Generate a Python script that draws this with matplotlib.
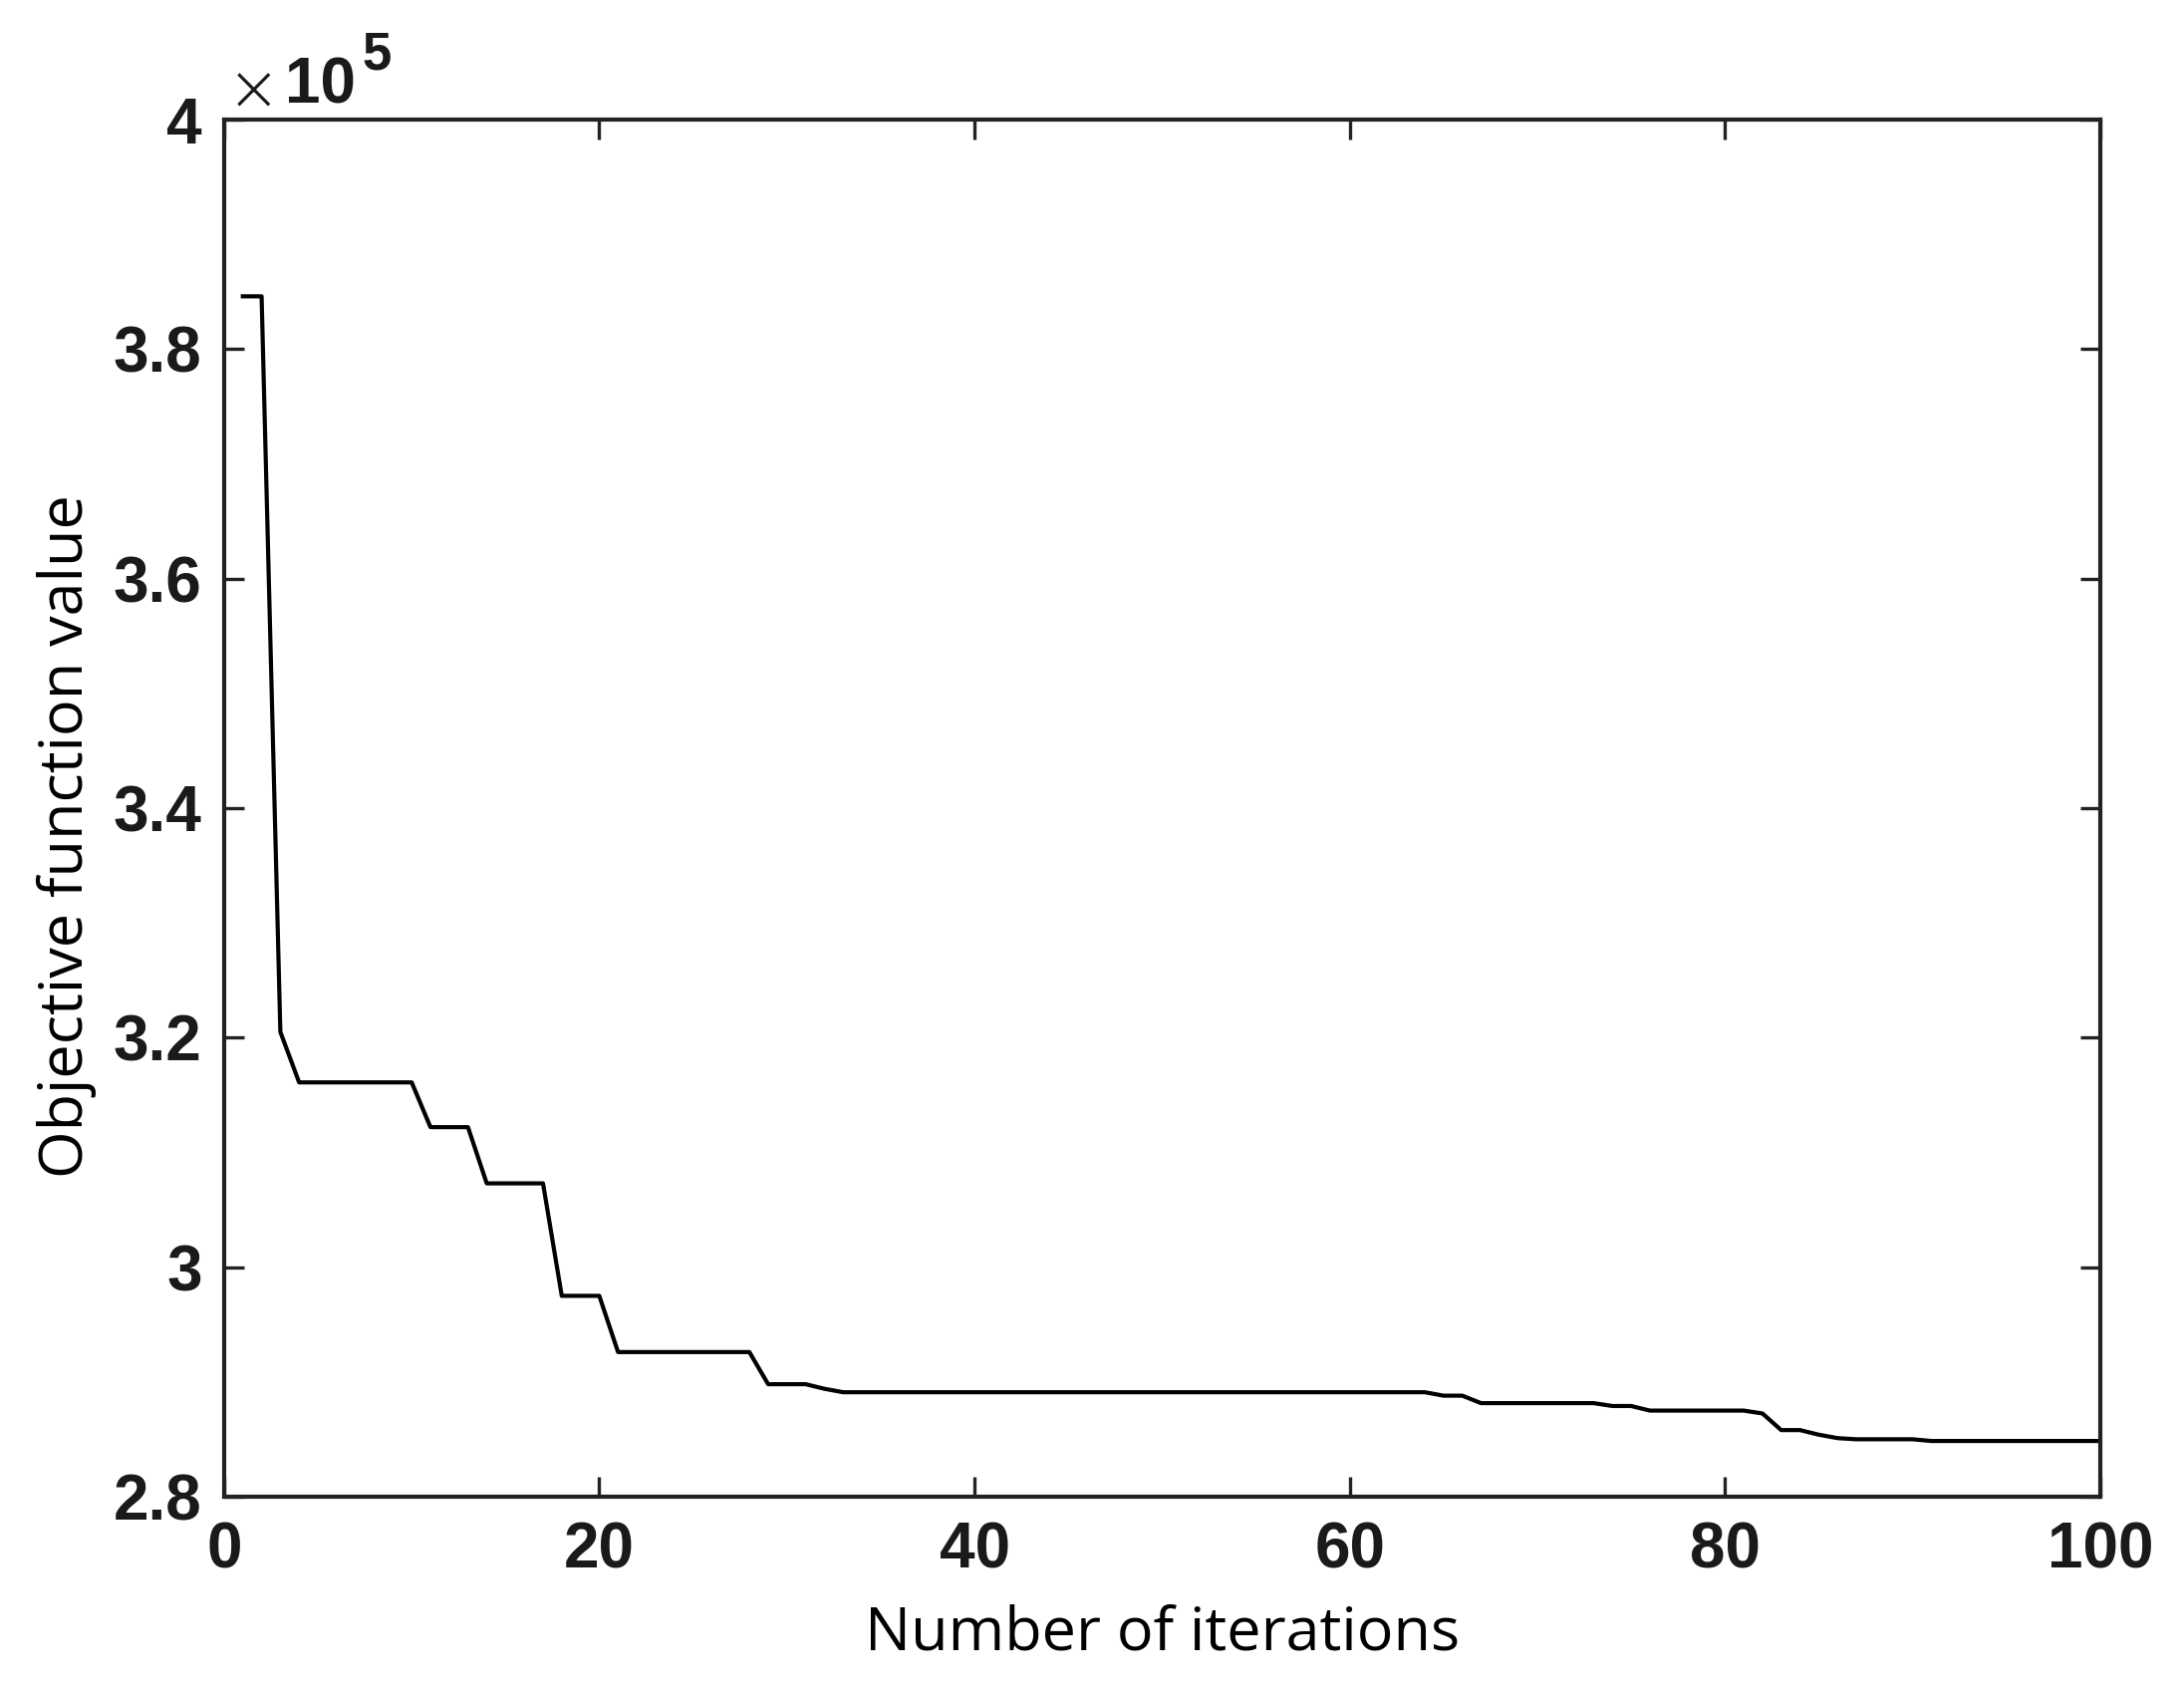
import matplotlib
matplotlib.use("Agg")
import matplotlib.pyplot as plt
from matplotlib.ticker import FuncFormatter

# best objective value per iteration
iterations = list(range(1, 101))
objective = [
    384600, 384600, 320500, 316100, 316100, 316100, 316100, 316100, 316100, 316100,
    312200, 312200, 312200, 307300, 307300, 307300, 307300, 297500, 297500, 297500,
    292600, 292600, 292600, 292600, 292600, 292600, 292600, 292600, 289800, 289800,
    289800, 289400, 289100, 289100, 289100, 289100, 289100, 289100, 289100, 289100,
    289100, 289100, 289100, 289100, 289100, 289100, 289100, 289100, 289100, 289100,
    289100, 289100, 289100, 289100, 289100, 289100, 289100, 289100, 289100, 289100,
    289100, 289100, 289100, 289100, 288800, 288800, 288150, 288150, 288150, 288150,
    288150, 288150, 288150, 287900, 287900, 287500, 287500, 287500, 287500, 287500,
    287500, 287250, 285800, 285800, 285400, 285100, 285000, 285000, 285000, 285000,
    284850, 284850, 284850, 284850, 284850, 284850, 284850, 284850, 284850, 284850,
]
x_ticks = [0, 20, 40, 60, 80, 100]
y_ticks = [280000, 300000, 320000, 340000, 360000, 380000, 400000]

TICK_FONT = dict(family="Liberation Sans", weight="bold", size=23)
LABEL_FONT = dict(family="Open Sans", size=22)

fig = plt.figure(figsize=(10.96, 8.5), dpi=200)
ax = fig.add_axes([0.1026, 0.1165, 0.8590, 0.8129])

ax.plot(iterations, objective, color="black", linewidth=1.5)

ax.set_xlim(0, 100)
ax.set_ylim(280000, 400000)
ax.set_xticks(x_ticks)
ax.set_yticks(y_ticks)
ax.yaxis.set_major_formatter(FuncFormatter(lambda v, _: f"{v / 1e5:g}"))

ax.tick_params(direction="in", length=7.2, width=1.2, top=True, right=True,
               color="#222222")
ax.tick_params(axis="x", pad=9)
ax.tick_params(axis="y", pad=8)
for lab in ax.get_xticklabels() + ax.get_yticklabels():
    lab.set_fontfamily(TICK_FONT["family"])
    lab.set_fontweight(TICK_FONT["weight"])
    lab.set_fontsize(TICK_FONT["size"])
    lab.set_color("#1a1a1a")
for spine in ax.spines.values():
    spine.set_linewidth(1.5)
    spine.set_color("#222222")

ax.set_xlabel("Number of iterations", **LABEL_FONT)
ax.set_ylabel("Objective function value", **LABEL_FONT)
ax.xaxis.set_label_coords(0.5, -0.078)
ax.yaxis.set_label_coords(-0.068, 0.48)

# MATLAB-style exponent marker above the y axis
W, H = 2192, 1700
fig.text(228 / W, 1 - 110 / H, "\u00d7", family="DejaVu Sans", weight="light",
         size=23, va="baseline", ha="left", color="#1a1a1a")
fig.text(286 / W, 1 - 104 / H, "10", va="baseline", ha="left", color="#1a1a1a",
         **TICK_FONT)
fig.text(363 / W, 1 - 70 / H, "5", family="Liberation Sans", weight="bold",
         size=19, va="baseline", ha="left", color="#1a1a1a")

fig.savefig("out.png", dpi=200, facecolor="white")
